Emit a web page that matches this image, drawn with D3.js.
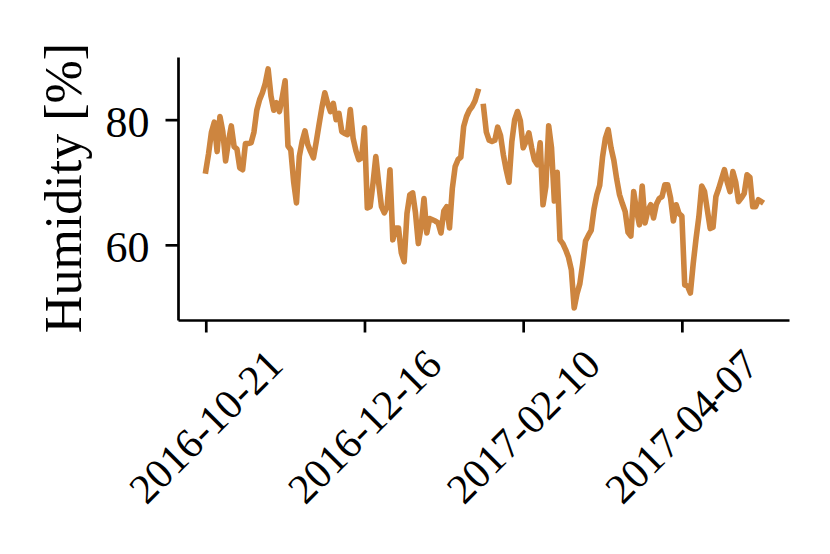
<!DOCTYPE html>
<html>
<head>
<meta charset="utf-8">
<script src="https://cdn.jsdelivr.net/npm/d3@7"></script>
<style>
  html, body { margin: 0; padding: 0; background: #ffffff; }
  svg { display: block; }
</style>
</head>
<body>
<svg id="chart" width="830" height="554"></svg>
<script>
// ---- data (daily humidity) ----
const startDate = "2016-10-21";
const humidity = [
  71.8, 74.6, 78.0, 79.6, 74.9, 80.5, 78.1, 73.4, 76.5, 79.0,
  75.7, 75.3, 72.3, 72.0, 76.2, 76.2, 76.3, 78.0, 81.5, 83.2,
  84.3, 85.8, 88.1, 83.8, 81.5, 82.7, 81.3, 83.6, 86.2, 75.8,
  75.2, 70.1, 66.7, 74.1, 76.5, 78.2, 76.0, 74.9, 73.9, 76.5,
  79.3, 82.0, 84.3, 82.6, 81.3, 82.6, 80.0, 81.0, 78.1, 77.8,
  77.6, 81.6, 77.0, 75.0, 73.6, 73.9, 78.7, 65.9, 66.1, 69.8,
  74.1, 69.9, 66.1, 65.1, 66.1, 72.0, 60.8, 62.7, 62.7, 58.7,
  57.3, 65.0, 68.0, 68.3, 65.1, 60.2, 62.9, 67.4, 61.9, 64.2,
  64.0, 63.8, 63.5, 61.9, 65.4, 66.1, 62.7, 69.0, 72.5, 73.6,
  74.0, 78.9, 80.5, 81.5, 82.1, 83.0, 84.5, null, 82.1, 78.0,
  76.7, 76.5, 76.7, 78.8, 77.5, 74.4, 72.0, 70.0, 76.5, 80.0,
  81.3, 79.8, 75.5, 76.5, 77.9, 75.5, 73.5, 72.8, 76.3, 66.4,
  69.3, 79.0, 75.5, 67.0, 71.6, 60.8, 60.2, 59.2, 58.0, 56.0,
  49.9, 52.2, 53.8, 57.0, 60.6, 61.5, 62.3, 65.7, 68.0, 69.5,
  74.0, 77.0, 78.4, 75.5, 73.5, 70.5, 68.0, 66.6, 65.3, 62.0,
  61.4, 68.5, 65.5, 63.2, 69.4, 63.5, 65.5, 66.4, 64.3, 66.5,
  67.4, 67.7, 69.6, 69.6, 67.5, 63.8, 66.4, 65.0, 64.6, 53.6,
  53.4, 52.3, 57.0, 61.0, 64.5, 69.4, 68.5, 65.5, 62.6, 62.8,
  67.7, 69.0, 70.5, 72.0, 70.0, 68.5, 71.7, 70.0, 66.9, 67.5,
  68.2, 71.2, 70.8, 66.1, 66.1, 67.2, 66.9
];
const xTickLabels = ["2016-10-21", "2016-12-16", "2017-02-10", "2017-04-07"];
const yTicks = [60, 80];
const yLabel = "Humidity [%]";

// ---- layout ----
const svg = d3.select("#chart");
const plotLeft = 178, plotRight = 789, plotTop = 57, plotBottom = 320;
const lineColor = "#CD853F";
const fontFamily = "'Liberation Serif', 'Times New Roman', serif";

const parse = d3.utcParse("%Y-%m-%d");
const t0 = parse(startDate);
const data = humidity.map((v, i) => ({ date: d3.utcDay.offset(t0, i), value: v }));

const t1 = data[data.length - 1].date;
const spanMs = t1 - t0;
const x = d3.scaleUtc()
  .domain([new Date(+t0 - 0.05 * spanMs), new Date(+t1 + 0.05 * spanMs)])
  .range([plotLeft, plotRight]);

const vals = humidity.filter(v => v !== null);
const vmin = d3.min(vals), vmax = d3.max(vals);
const vr = vmax - vmin;
const y = d3.scaleLinear()
  .domain([vmin - 0.05 * vr, vmax + 0.05 * vr])
  .range([plotBottom, plotTop]);

// ---- line ----
const line = d3.line()
  .defined(d => d.value !== null)
  .x(d => x(d.date))
  .y(d => y(d.value));

svg.append("path")
  .datum(data)
  .attr("fill", "none")
  .attr("stroke", lineColor)
  .attr("stroke-width", 5.6)
  .attr("stroke-linejoin", "round")
  .attr("stroke-linecap", "square")
  .attr("d", line);

// ---- axes ----
const xAxis = d3.axisBottom(x)
  .tickValues(xTickLabels.map(parse))
  .tickFormat(d3.utcFormat("%Y-%m-%d"))
  .tickSize(12.5)
  .tickSizeOuter(0);

const gx = svg.append("g")
  .attr("transform", `translate(0,${plotBottom})`)
  .call(xAxis);
gx.select(".domain").attr("stroke", "#000").attr("stroke-width", 2.7);
gx.selectAll(".tick line").attr("stroke", "#000").attr("stroke-width", 2.7);
gx.selectAll(".tick text")
  .attr("font-family", fontFamily)
  .attr("font-size", 42)
  .attr("fill", "#000")
  .attr("text-anchor", "middle")
  .attr("y", 0)
  .attr("dy", "0.32em")
  .attr("transform", "translate(0,107) rotate(-45)");

const yAxis = d3.axisLeft(y)
  .tickValues(yTicks)
  .tickFormat(d3.format("d"))
  .tickSize(12.5)
  .tickPadding(16)
  .tickSizeOuter(0);

const gy = svg.append("g")
  .attr("transform", `translate(${plotLeft},0)`)
  .call(yAxis);
gy.select(".domain").attr("stroke", "#000").attr("stroke-width", 2.7);
gy.selectAll(".tick line").attr("stroke", "#000").attr("stroke-width", 2.7);
gy.selectAll(".tick text")
  .attr("font-family", fontFamily)
  .attr("font-size", 44)
  .attr("fill", "#000")
  .attr("dy", "0.38em");

// ---- y label ----
svg.append("text")
  .attr("transform", "translate(81,188) rotate(-90)")
  .attr("text-anchor", "middle")
  .attr("font-family", fontFamily)
  .attr("font-size", 52)
  .attr("fill", "#000")
  .text(yLabel);
</script>
</body>
</html>
